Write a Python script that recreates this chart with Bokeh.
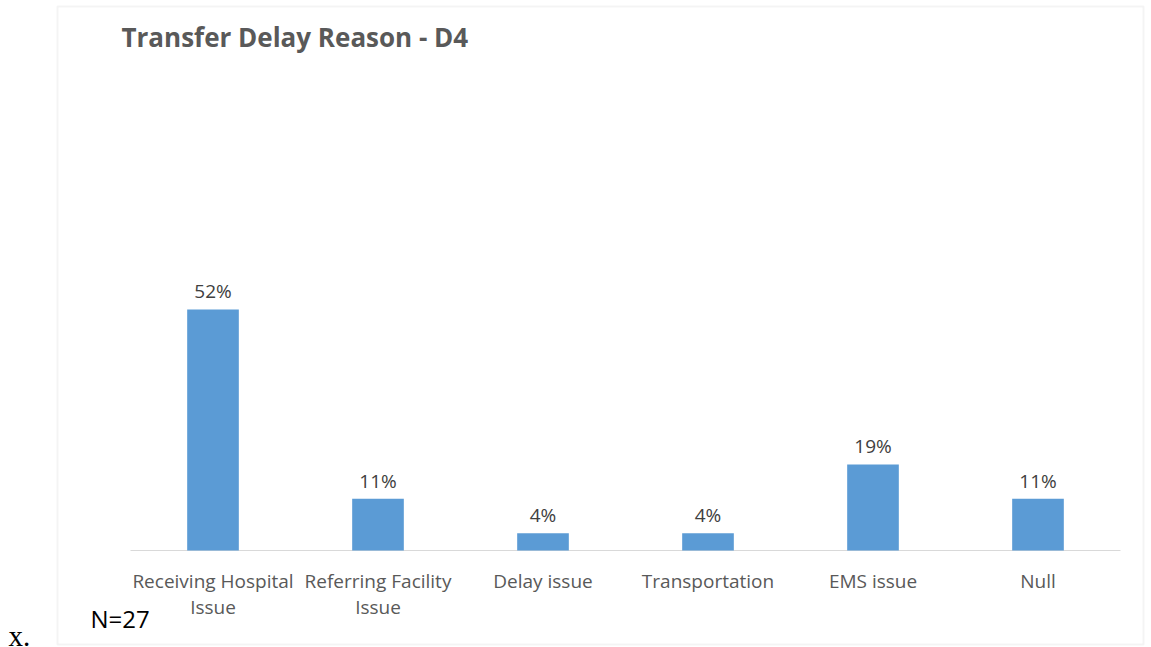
from bokeh.plotting import figure
from bokeh.models import (ColumnDataSource, Label, LabelSet, Range1d, FixedTicker,
                          CustomJSTickFormatter, BoxAnnotation)
from bokeh.embed import file_html
from bokeh.resources import INLINE
from bokeh.core.properties import value

categories = ["Receiving Hospital\nIssue", "Referring Facility\nIssue", "Delay issue",
              "Transportation", "EMS issue", "Null"]
percentages = [51.85, 11.11, 3.70, 3.70, 18.52, 11.11]
pct_labels = ["52%", "11%", "4%", "4%", "19%", "11%"]

FONT = "Open Sans"
positions = [i + 0.5 for i in range(len(categories))]
src = ColumnDataSource(dict(x=positions, val=percentages, lab=pct_labels))

p = figure(x_range=Range1d(-0.7879, 6.1879), y_range=Range1d(-20.86, 118.28),
           width=1151, height=647, output_backend="svg", toolbar_location=None,
           min_border_left=0, min_border_right=0, min_border_top=0, min_border_bottom=0)
p.outline_line_color = None

# outer chart border
p.add_layout(BoxAnnotation(left=57, right=1143, top=641, bottom=3,
                           left_units="screen", right_units="screen",
                           top_units="screen", bottom_units="screen",
                           fill_color=None, line_color="#D9D9D9", line_width=2))

# baseline of the category axis
p.segment(x0=[0], x1=[len(categories)], y0=[0], y1=[0], line_color="#D9D9D9", line_width=1)
p.vbar(x="x", top="val", width=0.313, source=src, fill_color="#5B9BD5", line_color=None)

p.add_layout(LabelSet(x="x", y="val", text="lab", source=src, y_offset=11,
                      text_align="center", text_baseline="alphabetic",
                      text_font=value(FONT), text_font_size="19px", text_color="#404040"))

p.yaxis.visible = False
p.xgrid.grid_line_color = None
p.ygrid.grid_line_color = None

ax = p.xaxis[0]
ax.fixed_location = 0
ax.ticker = FixedTicker(ticks=positions)
ax.formatter = CustomJSTickFormatter(args=dict(cats=categories),
                                     code="return cats[Math.floor(tick)];")
ax.axis_line_color = None
ax.major_tick_line_color = None
ax.minor_tick_line_color = None
ax.major_tick_out = 0
ax.major_tick_in = 0
ax.major_label_text_font = FONT
ax.major_label_text_font_size = "19px"
ax.major_label_text_color = "#595959"
ax.major_label_text_line_height = 1.03
ax.major_label_standoff = 17

p.add_layout(Label(x=121, y=611, x_units="screen", y_units="screen", text="Transfer Delay Reason - D4",
                   text_font=FONT, text_font_size="26px", text_font_style="bold",
                   text_color="#595959", text_baseline="alphabetic"))
p.add_layout(Label(x=90, y=29, x_units="screen", y_units="screen", text="N=27",
                   text_font=FONT, text_font_size="24px", text_color="#000000",
                   text_baseline="alphabetic"))
p.add_layout(Label(x=8, y=12, x_units="screen", y_units="screen", text="x.",
                   text_font="Liberation Serif", text_font_size="29px", text_color="#000000",
                   text_baseline="alphabetic"))

open("out.html", "w").write(file_html(p, INLINE))
